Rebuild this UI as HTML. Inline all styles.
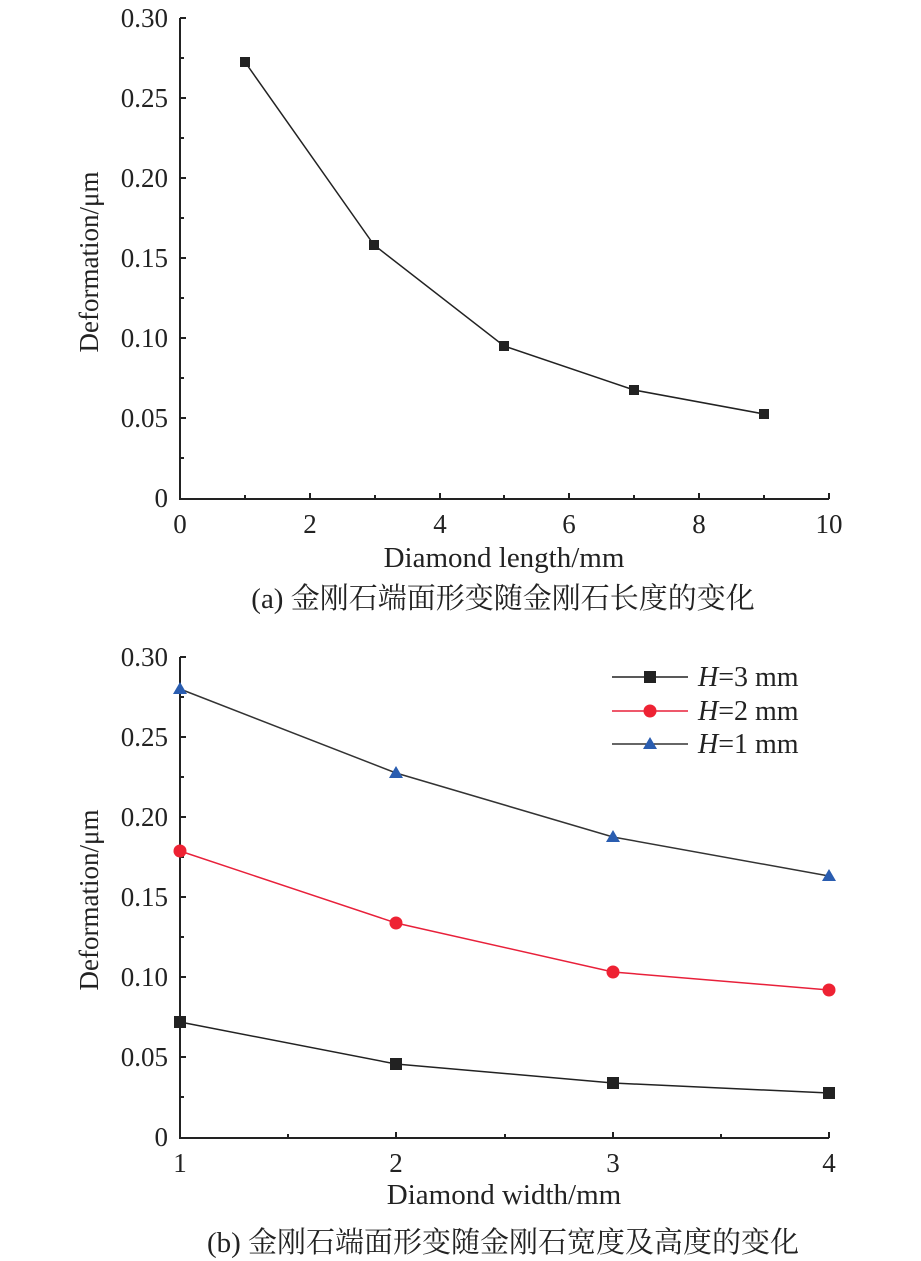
<!DOCTYPE html>
<html><head><meta charset="utf-8"><style>body{margin:0;background:#fff}svg{display:block}</style></head>
<body>
<svg width="921" height="1261" viewBox="0 0 921 1261" xmlns="http://www.w3.org/2000/svg" font-family="Liberation Serif, Noto Serif CJK SC, serif" fill="#222">
<!-- Chart a -->
<g stroke="#222" stroke-width="2" fill="none">
<path d="M180,18 V499 H829"/>
<path d="M180,18 h6 M180,58 h4 M180,98 h6 M180,138 h4 M180,178 h6 M180,218 h4 M180,258 h6 M180,298 h4 M180,338 h6 M180,378 h4 M180,418 h6 M180,458 h4"/>
<path d="M245,499 v-4 M310,499 v-6 M375,499 v-4 M440,499 v-6 M504,499 v-4 M569,499 v-6 M634,499 v-4 M699,499 v-6 M764,499 v-4 M829,499 v-6"/>
</g>
<polyline points="245,62 374,245 504,346 634,390 764,414" fill="none" stroke="#222" stroke-width="1.5"/>
<g fill="#222"><rect x="240" y="57" width="10" height="10"/><rect x="369" y="240" width="10" height="10"/><rect x="499" y="341" width="10" height="10"/><rect x="629" y="385" width="10" height="10"/><rect x="759" y="409" width="10" height="10"/></g>
<g font-size="27" text-anchor="end">
<text x="168" y="27">0.30</text><text x="168" y="107">0.25</text><text x="168" y="187">0.20</text><text x="168" y="267">0.15</text><text x="168" y="347">0.10</text><text x="168" y="427">0.05</text><text x="168" y="507">0</text></g>
<g font-size="27" text-anchor="middle">
<text x="180" y="533">0</text><text x="310" y="533">2</text><text x="440" y="533">4</text><text x="569" y="533">6</text><text x="699" y="533">8</text><text x="829" y="533">10</text>
<text x="504" y="567" font-size="29">Diamond length/mm</text>
<text x="503" y="608" font-size="29">(a) 金刚石端面形变随金刚石长度的变化</text>
<text transform="translate(98,262) rotate(-90)" font-size="27">Deformation/μm</text>
</g>
<!-- Chart b -->
<g stroke="#222" stroke-width="2" fill="none">
<path d="M180,657 V1138 H829"/>
<path d="M180,657 h6 M180,697 h4 M180,737 h6 M180,777 h4 M180,817 h6 M180,857 h4 M180,897 h6 M180,937 h4 M180,977 h6 M180,1017 h4 M180,1057 h6 M180,1097 h4"/>
<path d="M288,1138 v-4 M396,1138 v-6 M505,1138 v-4 M613,1138 v-6 M721,1138 v-4 M829,1138 v-6"/>
</g>
<polyline points="180,1022 396,1064 613,1083 829,1093" fill="none" stroke="#222" stroke-width="1.5"/>
<polyline points="180,851 396,923 613,972 829,990" fill="none" stroke="#e8203a" stroke-width="1.5"/>
<polyline points="180,689 396,773 613,837 829,876" fill="none" stroke="#333" stroke-width="1.5"/>
<g fill="#222"><rect x="174" y="1016" width="12" height="12"/><rect x="390" y="1058" width="12" height="12"/><rect x="607" y="1077" width="12" height="12"/><rect x="823" y="1087" width="12" height="12"/></g>
<g fill="#ee2233"><circle cx="180" cy="851" r="6.5"/><circle cx="396" cy="923" r="6.5"/><circle cx="613" cy="972" r="6.5"/><circle cx="829" cy="990" r="6.5"/></g>
<g fill="#2a5db0"><path d="M180,682 l7,12 h-14z"/><path d="M396,766 l7,12 h-14z"/><path d="M613,830 l7,12 h-14z"/><path d="M829,869 l7,12 h-14z"/></g>
<!-- legend -->
<line x1="612" y1="677" x2="688" y2="677" stroke="#222" stroke-width="1.5"/><rect x="644" y="671" width="12" height="12" fill="#222"/>
<line x1="612" y1="711" x2="688" y2="711" stroke="#e8203a" stroke-width="1.5"/><circle cx="650" cy="711" r="6.5" fill="#ee2233"/>
<line x1="612" y1="744" x2="688" y2="744" stroke="#333" stroke-width="1.5"/><path d="M650,737 l7,12 h-14z" fill="#2a5db0"/>
<g font-size="28"><text x="698" y="686"><tspan font-style="italic">H</tspan>=3 mm</text><text x="698" y="720"><tspan font-style="italic">H</tspan>=2 mm</text><text x="698" y="753"><tspan font-style="italic">H</tspan>=1 mm</text></g>
<g font-size="27" text-anchor="end">
<text x="168" y="666">0.30</text><text x="168" y="746">0.25</text><text x="168" y="826">0.20</text><text x="168" y="906">0.15</text><text x="168" y="986">0.10</text><text x="168" y="1066">0.05</text><text x="168" y="1146">0</text></g>
<g font-size="27" text-anchor="middle">
<text x="180" y="1172">1</text><text x="396" y="1172">2</text><text x="613" y="1172">3</text><text x="829" y="1172">4</text>
<text x="504" y="1204" font-size="29">Diamond width/mm</text>
<text x="503" y="1252" font-size="29">(b) 金刚石端面形变随金刚石宽度及高度的变化</text>
<text transform="translate(98,900) rotate(-90)" font-size="27">Deformation/μm</text>
</g>
</svg>
</body></html>
